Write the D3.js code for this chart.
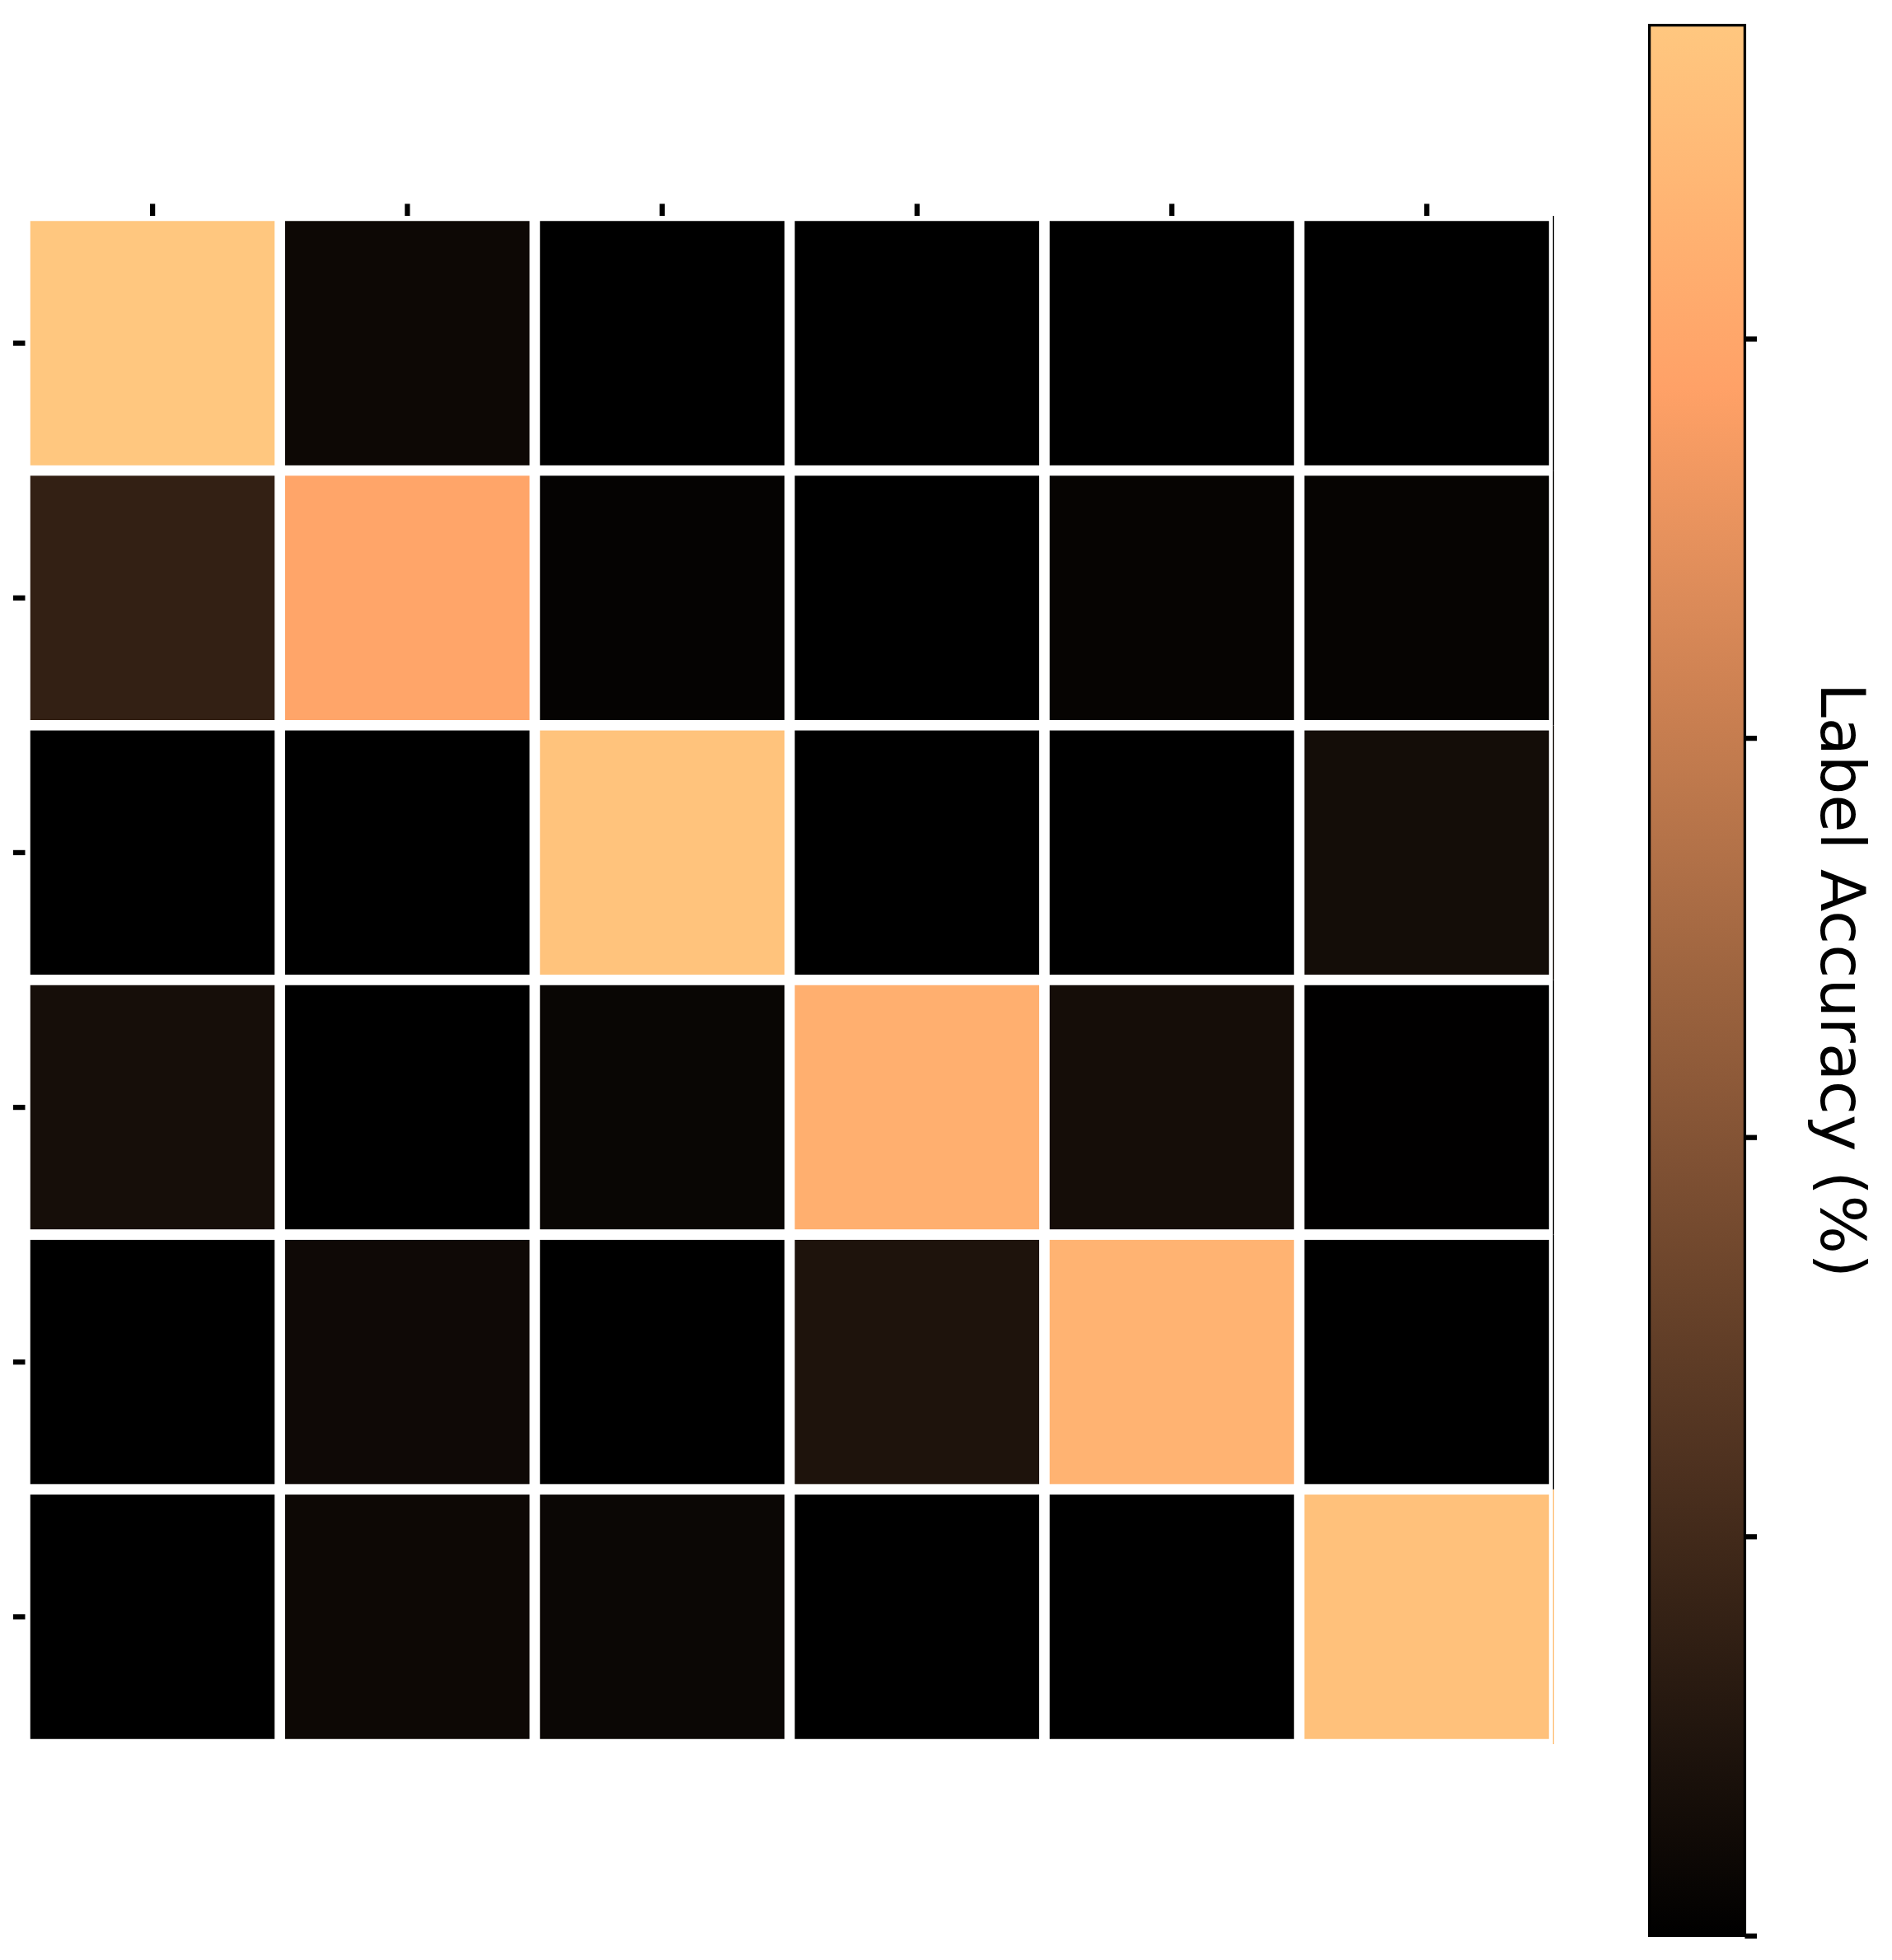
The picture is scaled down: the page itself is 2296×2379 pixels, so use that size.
<!DOCTYPE html>
<html>
<head>
<meta charset="utf-8">
<script src="https://cdn.jsdelivr.net/npm/d3@7"></script>
<style>
  body { margin: 0; background: #fff; }
  svg { display: block; }
</style>
</head>
<body>
<div class="container"></div>
<script>
const w = 2296
const h = 2379

// confusion matrix, % of each true label (rows) predicted as each label (columns)
const rows = [0, 1, 2, 3, 4, 5]
const cols = [0, 1, 2, 3, 4, 5]
const row0 = [95.7, 4.0, 0.1, 0.1, 0.1, 0.0]
const row1 = [15.4, 79.5, 1.4, 0.1, 1.8, 1.8]
const row2 = [0.1, 0.1, 93.5, 0.1, 0.1, 6.1]
const row3 = [6.6, 0.1, 2.7, 84.0, 6.4, 0.2]
const row4 = [0.1, 4.5, 0.1, 9.0, 86.2, 0.1]
const row5 = [0.1, 3.8, 3.4, 0.1, 0.1, 92.5]
const matrix = [row0, row1, row2, row3, row4, row5]
const colorTicks = [0, 20, 40, 60, 80]
const colorLabel = "Label Accuracy (%)"

const axLeft = 30.5, axRight = 1886, axTop = 262, axBottom = 2117
const cbLeft = 2001.6, cbRight = 2117.4, cbTop = 30.6, cbBottom = 2349.4
const tickLen = 14.6, tickW = 6.25

// matplotlib "copper"
const copper = t => d3.rgb(Math.min(1, t / 0.809524) * 255, 0.7812 * t * 255, 0.4975 * t * 255)

const vmax = d3.max(matrix, r => d3.max(r))
const zScale = d3.scaleSequential(copper).domain([0, vmax])

const cells = []
matrix.forEach((r, i) => r.forEach((v, j) => cells.push({row: i, col: j, value: v})))

const svg = d3.select(".container")
              .append("svg")
              .attr("width", w)
              .attr("height", h)

svg.append("rect").attr("width", w).attr("height", h).attr("fill", "#fff")

const xScale = d3.scaleBand()
                .domain(cols)
                .range([axLeft, axRight])

const yScale = d3.scaleBand()
                .domain(rows)
                .range([axTop, axBottom])

svg.append("g")
    .selectAll("rect")
    .data(cells)
    .enter()
    .append("rect")
      .attr("x", d => xScale(d.col))
      .attr("y", d => yScale(d.row))
      .attr("width", xScale.bandwidth())
      .attr("height", yScale.bandwidth())
      .attr("fill", d => zScale(d.value))
      .attr("stroke", "#fff")
      .attr("stroke-width", 12.5)

// thin sliver of the last column that shows past the white edges
svg.append("g")
    .selectAll("rect")
    .data(cells.filter(d => d.col == cols[cols.length - 1]))
    .enter()
    .append("rect")
      .attr("x", axRight - 1.4)
      .attr("y", d => yScale(d.row))
      .attr("width", 1.4)
      .attr("height", yScale.bandwidth())
      .attr("fill", d => zScale(d.value))

const xAxis = d3.axisTop(xScale).tickSize(tickLen).tickFormat("")
const yAxis = d3.axisLeft(yScale).tickSize(tickLen).tickFormat("")

svg.append("g")
    .attr("transform", `translate(0, ${axTop})`)
    .call(xAxis)
    .call(g => g.select(".domain").remove())
    .selectAll("line").attr("stroke-width", tickW)

svg.append("g")
    .attr("transform", `translate(${axLeft}, 0)`)
    .call(yAxis)
    .call(g => g.select(".domain").remove())
    .selectAll("line").attr("stroke-width", tickW)

// colorbar
const grad = svg.append("defs")
                .append("linearGradient")
                .attr("id", "copper")
                .attr("x1", 0).attr("y1", 1)
                .attr("x2", 0).attr("y2", 0)

const stops = d3.range(0, 1.0001, 0.05).concat([0.809524]).sort((a, b) => a - b)
grad.selectAll("stop")
    .data(stops)
    .enter()
    .append("stop")
      .attr("offset", d => d)
      .attr("stop-color", d => copper(d))

const cScale = d3.scaleLinear()
                .domain([0, vmax])
                .range([cbBottom, cbTop])

svg.append("rect")
    .attr("x", cbLeft)
    .attr("y", cScale(vmax))
    .attr("width", cbRight - cbLeft)
    .attr("height", cScale(0) - cScale(vmax))
    .attr("fill", "url(#copper)")
    .attr("stroke", "#000")
    .attr("stroke-width", 3.3)

svg.append("g")
    .attr("transform", `translate(${cbRight}, 0)`)
    .call(d3.axisRight(cScale).tickValues(colorTicks).tickSize(tickLen).tickFormat(""))
    .call(g => g.select(".domain").remove())
    .selectAll("line").attr("stroke-width", tickW)

svg.append("text")
    .attr("transform", `translate(2210, ${(cbTop + cbBottom) / 2}) rotate(90)`)
    .attr("text-anchor", "middle")
    .attr("font-family", "DejaVu Sans")
    .attr("font-size", 75)
    .text(colorLabel)
</script>
</body>
</html>
